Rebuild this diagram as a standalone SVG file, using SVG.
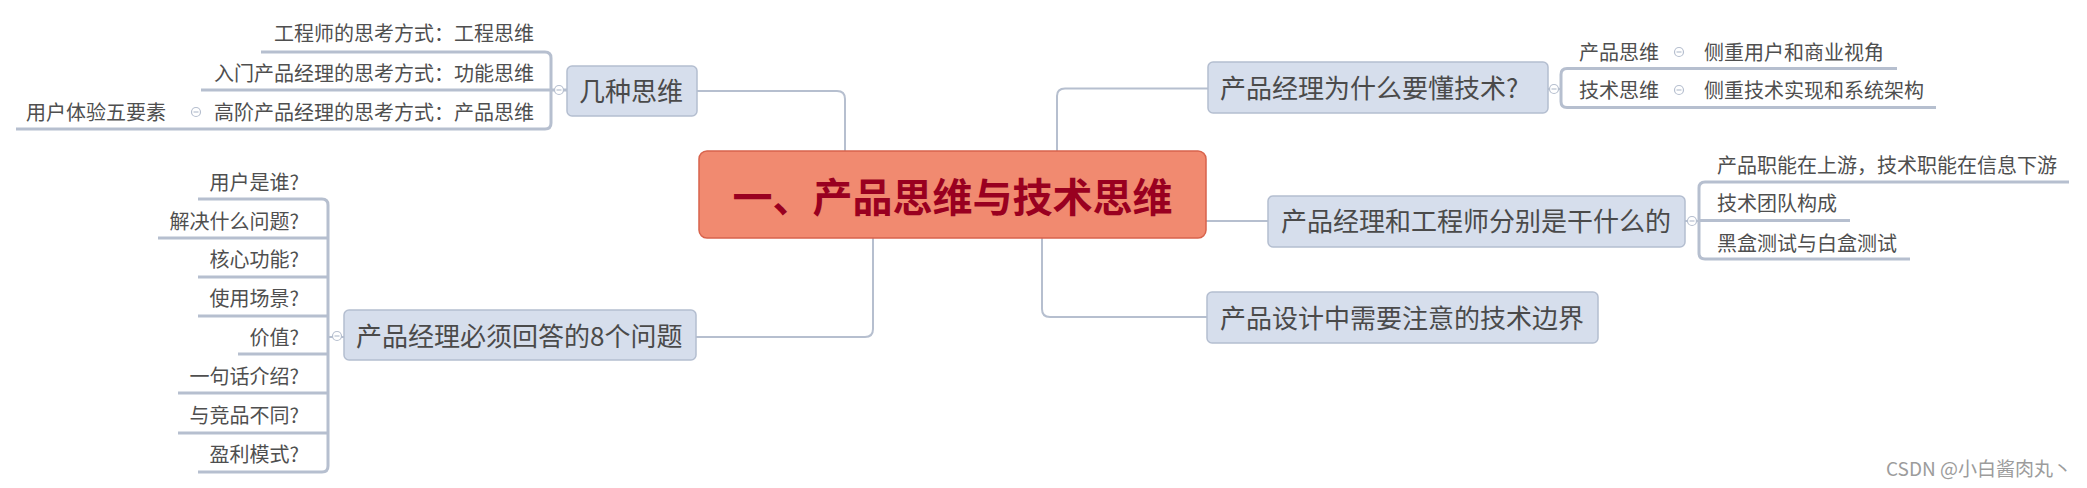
<svg xmlns="http://www.w3.org/2000/svg" width="2087" height="488" viewBox="0 0 2087 488">
<style>
text { font-family: "Noto Sans CJK SC", "Noto Sans", sans-serif; fill: #4f4f4f; }
.leaf { font-size: 20px; }
.end { text-anchor: end; }
.sub { font-size: 26px; fill: #4a4a4a; }
.subbox { fill: #d6deec; stroke: #b4bed0; stroke-width: 1.5; }
.line { fill: none; stroke: #b6bfcf; stroke-width: 2; }
.ul { fill: none; stroke: #b6bfcf; stroke-width: 3; }
.cbtn { fill: #ffffff; stroke: #b6bfcf; stroke-width: 1.2; }
.cmin { stroke: #b6bfcf; stroke-width: 1.2; }
.central { fill: #f18a70; stroke: #d8634c; stroke-width: 1.5; }
.ctext { font-size: 40px; font-weight: 700; fill: #990020; text-anchor: middle; }
.wm { font-size: 19px; fill: #9c9c9c; }
</style>
<defs>
<g id="btn"><circle class="cbtn" cx="0" cy="0" r="4.5"/><line class="cmin" x1="-2.5" y1="0" x2="2.5" y2="0"/></g>
</defs>
<rect width="2087" height="488" fill="#ffffff"/>

<g id="connectors">
<path class="line" d="M697,91 H837 Q845,91 845,99 V151"/>
<path class="line" d="M873,238 V329 Q873,337 865,337 H696"/>
<path class="line" d="M1057,151 V96 Q1057,88.5 1065,88.5 H1208"/>
<path class="line" d="M1206,221 H1268"/>
<path class="line" d="M1042,238 V309 Q1042,317 1050,317 H1207"/>

<!-- 几种思维 children -->
<path class="ul" d="M261,52 H545 Q551,52 551,58 V123 Q551,129 545,129 H16"/>
<path class="ul" d="M201,90 H567"/>

<!-- 8 questions -->
<path class="ul" d="M198,199 H322 Q328,199 328,205 V466 Q328,472 322,472 H198"/>
<path class="ul" d="M158,238 H328"/>
<path class="ul" d="M198,277 H328"/>
<path class="ul" d="M198,316 H328"/>
<path class="ul" d="M238,354 H328"/>
<path class="ul" d="M178,393 H328"/>
<path class="ul" d="M178,433 H328"/>
<path class="line" d="M328,337 H344"/>

<!-- why tech -->
<path class="line" d="M1548,89 H1561"/>
<path class="ul" d="M1897,68.5 H1567 Q1561,68.5 1561,74.5 V101.5 Q1561,107.5 1567,107.5 H1936"/>

<!-- PM & engineer -->
<path class="line" d="M1685,221 H1699"/>
<path class="ul" d="M2069,182 H1705 Q1699,182 1699,188 V253 Q1699,259 1705,259 H1910"/>
<path class="ul" d="M1699,220.5 H1850"/>

<use href="#btn" x="559" y="90"/>
<use href="#btn" x="196" y="112"/>
<use href="#btn" x="337" y="336"/>
<use href="#btn" x="1554" y="89"/>
<use href="#btn" x="1679" y="52"/>
<use href="#btn" x="1679" y="90"/>
<use href="#btn" x="1692" y="221"/>
</g>

<g id="central">
<rect class="central" x="699" y="151" width="507" height="87" rx="8"/>
<text class="ctext" x="952.5" y="212">一、产品思维与技术思维</text>
</g>

<g id="jizhong">
<rect class="subbox" x="567" y="66" width="130" height="50" rx="5"/>
<text class="sub" x="579" y="101">几种思维</text>
</g>
<g id="jz-1"><text class="leaf end" x="534" y="41">工程师的思考方式：工程思维</text></g>
<g id="jz-2"><text class="leaf end" x="534" y="81">入门产品经理的思考方式：功能思维</text></g>
<g id="jz-3"><text class="leaf end" x="534" y="120">高阶产品经理的思考方式：产品思维</text></g>
<g id="jz-3-1"><text class="leaf" x="26" y="120">用户体验五要素</text></g>

<g id="eight">
<rect class="subbox" x="344" y="310" width="352" height="50" rx="5"/>
<text class="sub" x="356" y="346">产品经理必须回答的8个问题</text>
</g>
<g id="q1"><text class="leaf end" x="299" y="190">用户是谁?</text></g>
<g id="q2"><text class="leaf end" x="299" y="229">解决什么问题?</text></g>
<g id="q3"><text class="leaf end" x="299" y="267">核心功能?</text></g>
<g id="q4"><text class="leaf end" x="299" y="306">使用场景?</text></g>
<g id="q5"><text class="leaf end" x="299" y="345">价值?</text></g>
<g id="q6"><text class="leaf end" x="299" y="384">一句话介绍?</text></g>
<g id="q7"><text class="leaf end" x="299" y="423">与竞品不同?</text></g>
<g id="q8"><text class="leaf end" x="299" y="462">盈利模式?</text></g>

<g id="why">
<rect class="subbox" x="1208" y="62" width="340" height="51" rx="5"/>
<text class="sub" x="1220" y="98">产品经理为什么要懂技术?</text>
</g>
<g id="why-1"><text class="leaf" x="1579" y="60">产品思维</text></g>
<g id="why-1-1"><text class="leaf" x="1704" y="60">侧重用户和商业视角</text></g>
<g id="why-2"><text class="leaf" x="1579" y="98">技术思维</text></g>
<g id="why-2-1"><text class="leaf" x="1704" y="98">侧重技术实现和系统架构</text></g>

<g id="pmeng">
<rect class="subbox" x="1268" y="196" width="417" height="51" rx="5"/>
<text class="sub" x="1281" y="231">产品经理和工程师分别是干什么的</text>
</g>
<g id="pm-1"><text class="leaf" x="1717" y="173">产品职能在上游，技术职能在信息下游</text></g>
<g id="pm-2"><text class="leaf" x="1717" y="211">技术团队构成</text></g>
<g id="pm-3"><text class="leaf" x="1717" y="251">黑盒测试与白盒测试</text></g>

<g id="boundary">
<rect class="subbox" x="1207" y="292" width="391" height="51" rx="5"/>
<text class="sub" x="1220" y="328">产品设计中需要注意的技术边界</text>
</g>

<text class="wm" x="1886" y="476">CSDN @小白酱肉丸丶</text>
</svg>
